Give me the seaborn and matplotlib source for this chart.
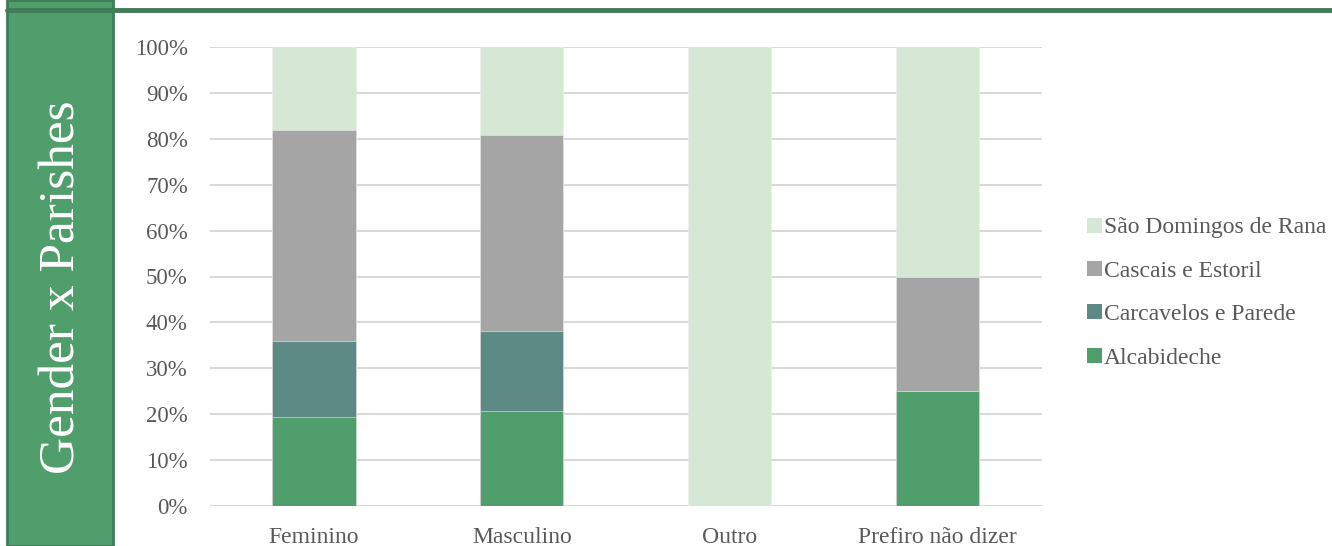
import matplotlib
matplotlib.use("Agg")
import matplotlib.pyplot as plt
from matplotlib.patches import Rectangle, Patch
from matplotlib.lines import Line2D
import numpy as np
import pandas as pd
import seaborn as sns

# Share of respondents per parish, by gender (percent)
genders = ["Feminino", "Masculino", "Outro", "Prefiro não dizer"]
alcabideche = [19.3, 20.8, 0.0, 25.0]
carcavelos_parede = [16.6, 17.3, 0.0, 0.0]
cascais_estoril = [46.1, 42.8, 0.0, 25.0]
sao_domingos_rana = [18.0, 19.1, 100.0, 50.0]

series_names = ["Alcabideche", "Carcavelos e Parede", "Cascais e Estoril", "São Domingos de Rana"]
series_values = [alcabideche, carcavelos_parede, cascais_estoril, sao_domingos_rana]
series_colors = ["#519E6D", "#5E8A86", "#A5A5A5", "#D5E8D5"]
ytick_labels = [f"{v}%" for v in range(0, 101, 10)]

sns.set_theme(style="white")
plt.rcParams["font.family"] = ["Liberation Serif", "DejaVu Serif"]

fig = plt.figure(figsize=(13.32, 5.46), dpi=100)
W, H = 1332, 546

# Left title panel and header rule
panel = Rectangle((7 / W, 0), 106 / W, 1, transform=fig.transFigure,
                  facecolor="#509E6C", edgecolor="#3F7C57", linewidth=2.0, zorder=0)
fig.patches.append(panel)
fig.lines.append(Line2D([7 / W, 1], [1 - 10 / H, 1 - 10 / H], transform=fig.transFigure,
                        color="#417B57", linewidth=3.5, zorder=1))
fig.text(62 / W, 1 - 287 / H, "Gender x Parishes", rotation=90, color="white",
         fontsize=37, ha="center", va="center")

ax = fig.add_axes([210 / W, 1 - 506 / H, (1041.5 - 210) / W, (506 - 47) / H])

# Stacked bars: draw cumulative totals from the top segment down
cum = np.cumsum(np.array(series_values), axis=0) / 100.0
for i in range(len(series_names) - 1, -1, -1):
    df = pd.DataFrame({"gender": genders, "value": cum[i]})
    sns.barplot(data=df, x="gender", y="value", order=genders, color=series_colors[i],
                width=0.4, saturation=1, ax=ax, edgecolor="#EEEEEE", linewidth=0.4, zorder=3)

ax.set_ylim(0, 1)
ax.set_xlim(-0.5, 3.5)
ax.set_yticks(np.linspace(0, 1, 11))
ax.set_yticklabels(ytick_labels)
ax.yaxis.grid(True, color="#D9D9D9", linewidth=1.5, zorder=0)
ax.xaxis.grid(False)
ax.set_axisbelow(True)
for s in ax.spines.values():
    s.set_visible(False)
ax.set_xlabel("")
ax.set_ylabel("")
ax.tick_params(axis="y", length=0, pad=16, labelsize=16.5, labelcolor="#595959")
ax.tick_params(axis="x", length=0, pad=15, labelsize=17, labelcolor="#595959")

handles = [Patch(facecolor=series_colors[i], edgecolor="none", label=series_names[i])
           for i in range(len(series_names) - 1, -1, -1)]
fig.legend(handles=handles, loc="center left", bbox_to_anchor=(1078 / W, 1 - 293 / H),
           frameon=False, fontsize=17, labelcolor="#595959", handlelength=0.6,
           handleheight=0.6, handletextpad=0.1, labelspacing=0.95, borderaxespad=0)

fig.savefig("out.png", dpi=100)
